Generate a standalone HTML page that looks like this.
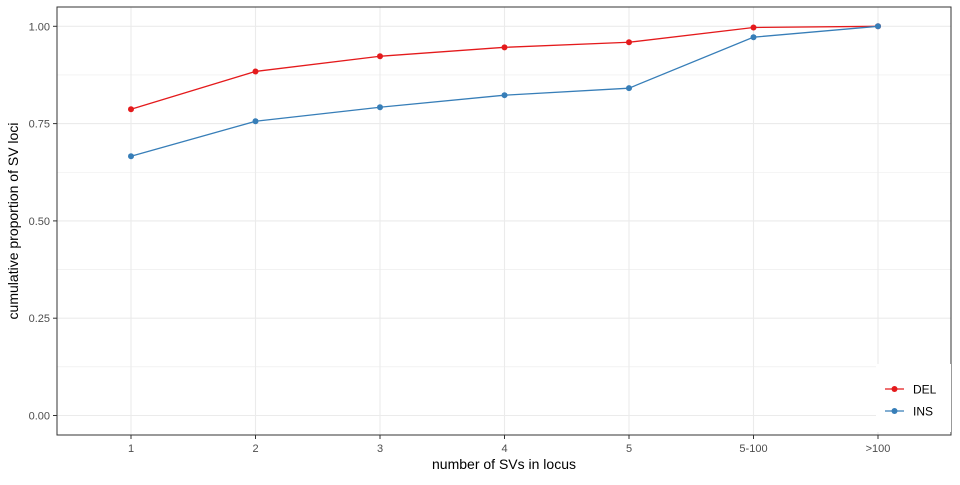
<!DOCTYPE html>
<html><head><meta charset="utf-8"><style>
html,body{margin:0;padding:0;background:#fff;}
svg text{font-family:"Liberation Sans",sans-serif;}
</style></head><body>
<svg id="chart" width="960" height="480" xmlns="http://www.w3.org/2000/svg">
<rect width="960" height="480" fill="#fff"/>
<g id="grid"></g>
<g id="series"></g>
<rect x="57" y="7" width="894" height="428" fill="none" stroke="#333" stroke-width="1"/>
<g id="axes"></g>
<text x="504" y="469" text-anchor="middle" font-size="14" fill="#000">number of SVs in locus</text>
<text transform="translate(18,221) rotate(-90)" text-anchor="middle" font-size="14" fill="#000">cumulative proportion of SV loci</text>
<g>
<rect x="876" y="364" width="75" height="68" fill="#fff"/>
<line x1="885" y1="389" x2="904" y2="389" stroke="#E41A1C" stroke-width="1.2"/>
<circle cx="894.5" cy="389" r="3" fill="#E41A1C"/>
<text x="913" y="393.5" font-size="12" fill="#000">DEL</text>
<line x1="885" y1="411" x2="904" y2="411" stroke="#377EB8" stroke-width="1.2"/>
<circle cx="894.5" cy="411" r="3" fill="#377EB8"/>
<text x="913" y="415.5" font-size="12" fill="#000">INS</text>
</g>
</svg>
<script>
const categories = ["1","2","3","4","5","5-100",">100"];
const delValues = [0.787,0.884,0.923,0.946,0.959,0.997,1.0];
const insValues = [0.666,0.756,0.792,0.823,0.841,0.972,1.0];
const yTicks = [0,0.25,0.5,0.75,1.0];
const yTickLabels = ["0.00","0.25","0.50","0.75","1.00"];

const NS="http://www.w3.org/2000/svg";
const step=124.5;
function xScale(i){return 131+i*step;}
function yScale(v){return 415.5-v*389.2;}
function mk(tag,attrs,parent){const e=document.createElementNS(NS,tag);for(const k in attrs)e.setAttribute(k,attrs[k]);parent.appendChild(e);return e;}
const grid=document.getElementById('grid'),axes=document.getElementById('axes'),series=document.getElementById('series');
// minor y grid
for(let i=0;i<yTicks.length-1;i++){
  const y=yScale((yTicks[i]+yTicks[i+1])/2);
  const l=mk('line',{x1:57,x2:951,y1:y,y2:y,stroke:'#ebebeb','stroke-width':0.6},grid);
  
  
}
yTicks.forEach((t,i)=>{
  const y=yScale(t);
  const l=mk('line',{x1:57,x2:951,y1:y,y2:y,stroke:'#ebebeb','stroke-width':1.1},grid);
  
  
  mk('line',{x1:53,x2:57,y1:y,y2:y,stroke:'#333','stroke-width':1},axes);
  const tx=mk('text',{x:50,y:y+4,'text-anchor':'end','font-size':11,fill:'#4d4d4d'},axes);
  tx.textContent=yTickLabels[i];
  
  
});
categories.forEach((c,i)=>{
  const x=xScale(i);
  const l=mk('line',{x1:x,x2:x,y1:7,y2:435,stroke:'#ebebeb','stroke-width':1.1},grid);
  
  
  mk('line',{x1:x,x2:x,y1:435,y2:439,stroke:'#333','stroke-width':1},axes);
  const tx=mk('text',{x:x,y:452,'text-anchor':'middle','font-size':11,fill:'#4d4d4d'},axes);
  tx.textContent=c;
  
  
});
function drawSeries(vals,color,name){
  const pts=vals.map((v,i)=>xScale(i)+','+yScale(v)).join(' ');
  const pl=mk('polyline',{points:pts,fill:'none',stroke:color,'stroke-width':1.3},series);
  
  
  vals.forEach((v,i)=>{
    const c=mk('circle',{cx:xScale(i),cy:yScale(v),r:3,fill:color},series);
    
    
  });
}
drawSeries(delValues,'#E41A1C','del');
drawSeries(insValues,'#377EB8','ins');
</script>
</body></html>
